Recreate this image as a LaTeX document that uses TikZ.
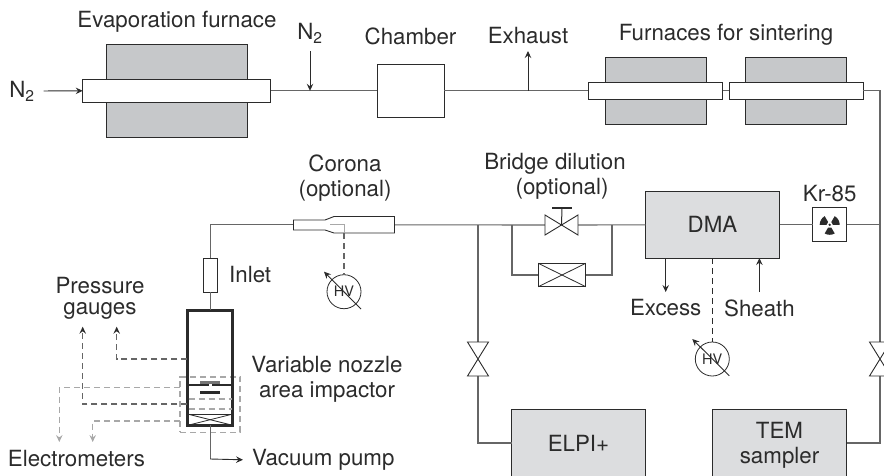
\documentclass[tikz,border=0pt]{standalone}
\usepackage{fontspec}
\setmainfont{TeX Gyre Heros}
\usepackage{xcolor}
\usetikzlibrary{arrows.meta, positioning, calc}
\definecolor{furnacegray}{HTML}{C6C8CA}
\definecolor{dmagray}{HTML}{DCDDDF}
\definecolor{pipegray}{HTML}{666666}
\definecolor{inkdark}{HTML}{2B2B2B}
\definecolor{dashgray}{HTML}{A8A8A8}

\begin{document}
\begin{tikzpicture}[
    x=1pt, y=-1pt,
    every node/.style={inner sep=0pt, outer sep=0pt},
    label/.style={font=\fontsize{22.3}{25}\selectfont, align=center, text=inkdark},
    furnace/.style={draw=inkdark, line width=0.9pt, fill=furnacegray},
    tube/.style={draw=inkdark, line width=1pt, fill=white},
    whitebox/.style={draw=inkdark, line width=0.9pt, fill=white},
    graybox/.style={draw=inkdark, line width=1pt, fill=dmagray, label, align=center},
    pipe/.style={draw=pipegray, line width=1.1pt},
    flow/.style={draw=inkdark, line width=0.9pt, -{Stealth[length=7pt,width=6.5pt,inset=2.5pt]}},
    dashdark/.style={draw=pipegray, line width=1.1pt, dash pattern=on 6pt off 4pt},
    dashlight/.style={draw=dashgray, line width=1.1pt, dash pattern=on 6pt off 4pt},
    flowdark/.style={dashdark, -{Stealth[length=7pt,width=6.5pt,inset=2.5pt,color=inkdark]}},
    flowlight/.style={dashlight, -{Stealth[length=7pt,width=6.5pt,inset=2.5pt]}},
    hvmeter/.style={circle, draw=inkdark, line width=0.8pt, fill=white, minimum size=34pt, font=\fontsize{14.5}{15}\selectfont, text=inkdark},
    thinline/.style={draw=inkdark, line width=0.8pt}
]
\useasboundingbox (0,0) rectangle (884,475);

% Furnaces and chamber
\node[furnace, minimum width=141pt, minimum height=93.5pt] (evap) at (176.5,90.8) {};
\node[tube, minimum width=188pt, minimum height=23pt] (evaptube) at (176.7,90.8) {};
\node[whitebox, minimum width=67pt, minimum height=53.7pt] (chamber) at (410.8,90.8) {};
\node[furnace, minimum width=101pt, minimum height=67.4pt] (sint1) at (655.5,90.8) {};
\node[furnace, minimum width=100.6pt, minimum height=67.4pt] (sint2) at (796,90.8) {};
\node[tube, minimum width=134.4pt, minimum height=16.6pt] (tube1) at (655.5,90.8) {};
\node[tube, minimum width=134pt, minimum height=16.6pt] (tube2) at (796.3,90.8) {};

\node[label] (evaplabel) at (177,22) {Evaporation furnace};
\node[label] (ninlabel) at (22,91) {N\textsubscript{2}};
\node[label] (ntoplabel) at (310,33) {N\textsubscript{2}};
\node[label] (chamberlabel) at (410.5,36) {Chamber};
\node[label] (exhaustlabel) at (528,36) {Exhaust};
\node[label] (sinterlabel) at (726,35) {Furnaces for sintering};

\coordinate (ntop) at (310,51);
\coordinate (exout) at (528,51);
\coordinate (rcorner) at (880,90.8);

% Top line
\draw[pipe] (evaptube.east) -- (chamber.west);
\draw[pipe] (chamber.east) -- (tube1.west);
\draw[pipe] (tube1.east) -- (tube2.west);
\draw[flow, shorten <=9pt] (ninlabel.east) -- (evaptube.west);
\draw[flow] (ntop) -- (ntop |- chamber.west);
\draw[flow] (exout |- chamber.east) -- (exout);

% Lower line
\node[whitebox, minimum width=14pt, minimum height=34pt] (inlet) at (210.2,275) {};
\node[label, right=12pt of inlet] (inletlabel) {Inlet};
\coordinate (coronaw) at (293.5,224.8);
\coordinate (coronae) at (394.5,224.8);
\coordinate (jelpi) at (478,224.8);
\coordinate (jbyl) at (512,224.8);
\coordinate (jbyr) at (612,224.8);
\coordinate (hvstart) at (330,224.8);
\coordinate (hvbend) at (344,233);
\coordinate (stemtop) at (562,208);

\node[label] (coronalabel) at (345,178) {Corona\\(optional)};
\node[label] (bridgelabel) at (555,176) {Bridge dilution\\\hspace*{14pt}(optional)};
\node[hvmeter] (hvcorona) at (344,291.7) {HV};

\node[minimum width=33pt, minimum height=20pt] (bridgevalve) at (561.5,225) {};
\node[whitebox, minimum width=47.4pt, minimum height=23.4pt] (bridgebox) at (562,275) {};
\node[graybox, minimum width=134pt, minimum height=66.5pt] (dma) at (712.5,224.8) {DMA};
\node[whitebox, line width=1pt, minimum width=34pt, minimum height=33.7pt] (kr) at (829.7,224.8) {};
\node[label, above=6pt of kr] (krlabel) {Kr-85};
\node[label] (excesslabel) at (665.7,308) {Excess};
\node[label] (sheathlabel) at (759.4,308) {Sheath};
\node[hvmeter] (hvdma) at (712.3,359) {HV};
\coordinate (excessend) at (665.7,292);
\coordinate (sheathstart) at (759.4,292);

\node[minimum width=21pt, minimum height=34pt] (elpivalve) at (478,359) {};
\node[minimum width=21pt, minimum height=34pt] (temvalve) at (880,359) {};
\node[graybox, minimum width=134pt, minimum height=68pt] (elpi) at (578.5,443) {ELPI+};
\node[graybox, minimum width=134.4pt, minimum height=68pt, text depth=0pt] (tem) at (779.5,443) {TEM\\sampler};

\draw[pipe] (inlet.north) |- (coronaw);
\draw[pipe] (coronae) -- (bridgevalve.west);
\draw[pipe] (bridgevalve.east) -- (dma.west);
\draw[pipe] (dma.east) -- (kr.west);
\draw[pipe] (kr.east) -- (kr.east -| rcorner);
\draw[pipe] (tube2.east) -- (rcorner) -- (temvalve.north);
\draw[pipe] (temvalve.south) |- (tem.east);
\draw[pipe] (jelpi) -- (elpivalve.north);
\draw[pipe] (elpivalve.south) |- (elpi.west);
\draw[pipe] (jbyl) |- (bridgebox.west);
\draw[pipe] (jbyr) |- (bridgebox.east);

% Corona
\draw[whitebox] (293.5,220) -- (325,220) -- (334,216.5) -- (394.5,216.5) -- (394.5,233)
    -- (334,233) -- (325,230) -- (293.5,230) -- cycle;
\draw[draw=dashgray, line width=1pt] (hvstart) -| (hvbend);
\draw[dashdark] (hvbend) -- (hvcorona.north);
\draw[flow] ($(hvcorona.center)+(17,17.3)$) -- ($(hvcorona.center)+(-20,-20)$);

% Valves
\draw[whitebox] (bridgevalve.north west) -- (bridgevalve.south west) -- (bridgevalve.north east)
    -- (bridgevalve.south east) -- cycle;
\draw[whitebox] (elpivalve.north west) -- (elpivalve.north east) -- (elpivalve.south west)
    -- (elpivalve.south east) -- cycle;
\draw[whitebox] (temvalve.north west) -- (temvalve.north east) -- (temvalve.south west)
    -- (temvalve.south east) -- cycle;
\draw[inkdark, line width=1pt] (bridgevalve.center) -- (stemtop);
\draw[inkdark, line width=1.8pt] ($(stemtop)+(-10,0)$) -- ($(stemtop)+(10,0)$);
\draw[thinline] (bridgebox.north west) -- (bridgebox.south east);
\draw[thinline] (bridgebox.south west) -- (bridgebox.north east);

% DMA
\draw[flow] (excessend |- dma.south) -- (excessend);
\draw[flow] (sheathstart) -- (sheathstart |- dma.south);
\draw[dashdark, draw=inkdark] (hvdma.north |- dma.south) -- (hvdma.north);
\draw[flow] ($(hvdma.center)+(17,16.7)$) -- ($(hvdma.center)+(-20,-20)$);

% Kr-85 source
\foreach \a in {30,150,270}
    \fill[inkdark, shift={(kr.center)}] (\a-30:3.2pt) arc[start angle=\a-30, end angle=\a+30, radius=3.2pt]
        -- (\a+30:10pt) arc[start angle=\a+30, end angle=\a-30, radius=10pt] -- cycle;
\fill[inkdark] (kr.center) circle[radius=1.3pt];

% Impactor
\node[label] (pressurelabel) at (100,298) {Pressure\\[-4pt]gauges};
\node[label] (nozzlelabel) at (327,379) {Variable nozzle\\area impactor};
\node[label, anchor=west] (vaclabel) at (252,460) {Vacuum pump};
\node[label, anchor=west] (electrolabel) at (8,458.5) {Electrometers};

\node[dashlight, minimum width=60pt, minimum height=55.5pt] (impbox) at (210,404.7) {};
\coordinate (gaugeA) at (116.7,326.7);
\coordinate (gaugeB) at (82.7,326.7);
\coordinate (electroA) at (59.3,442);
\coordinate (electroB) at (92.7,442);
\coordinate (vacbend) at (210.2,459);

\node[draw=inkdark, line width=3pt, minimum width=45.5pt, minimum height=115pt] (imp) at (210.2,367.5) {};
\node[thinline, minimum width=44pt, minimum height=11pt] (xbox) at (210.2,419.7) {};
\draw[thinline] (xbox.north west) -- (xbox.south east);
\draw[thinline] (xbox.south west) -- (xbox.north east);
\draw[inkdark, line width=2.6pt] (imp.west |- 0,385) -- (imp.east |- 0,385);
\draw[dashgray!70!black, line width=3pt] (200,382.8) -- (220,382.8);
\draw[white, line width=3pt] (210,384.4) -- (210,386.4);
\draw[inkdark, line width=2.6pt] (200,392.3) -- (220,392.3);
\draw[dashlight] (188.5,399) -- (232,399);
\draw[dashlight] (188.5,409) -- (232,409);

\draw[pipe] (inlet.south) -- (imp.north);
\draw[pipe] (imp.south) -- (vacbend);
\draw[flow, shorten >=9pt] (vacbend) -- (vaclabel.west);
\draw[flowdark] (imp.west |- 0,359) -| (gaugeA);
\draw[flowdark] (imp.west |- 0,404) -| (gaugeB);
\draw[flowlight] (impbox.west |- 0,387.3) -| (electroA);
\draw[flowlight] (impbox.west |- 0,421) -| (electroB);
\end{tikzpicture}
\end{document}
